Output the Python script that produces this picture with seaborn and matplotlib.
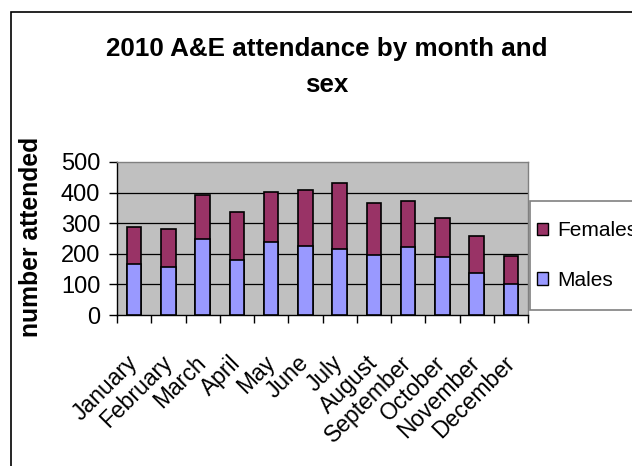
import matplotlib
matplotlib.use("Agg")
import matplotlib.pyplot as plt
from matplotlib.patches import Rectangle, Patch
import seaborn as sns
import pandas as pd

# monthly A&E attendance
months = ["January", "February", "March", "April", "May", "June",
          "July", "August", "September", "October", "November", "December"]
males = [167, 156, 247, 180, 240, 227, 217, 197, 221, 191, 138, 101]
females = [121, 126, 144, 157, 162, 181, 215, 170, 152, 127, 120, 91]

male_col = "#9999FF"
female_col = "#993366"

df = pd.DataFrame({"month": months, "Males": males, "Females": females})
df["total"] = df["Males"] + df["Females"]

sns.set_style("white")
plt.rcParams["font.family"] = ["Liberation Sans", "DejaVu Sans"]
plt.rcParams["text.color"] = "black"
plt.rcParams["xtick.color"] = "black"
plt.rcParams["ytick.color"] = "black"

fig = plt.figure(figsize=(6.32, 4.66), dpi=100, facecolor="white")
W, H = 632, 466
ax = fig.add_axes([117 / W, 1 - 315 / H, (528 - 117) / W, (315 - 162) / H])
ax.set_facecolor("#C0C0C0")

# stacked bars: draw the totals in the female colour, then males on top
sns.barplot(data=df, x="month", y="total", color=female_col, width=0.43,
            edgecolor="black", linewidth=1.2, saturation=1, ax=ax, zorder=3)
sns.barplot(data=df, x="month", y="Males", color=male_col, width=0.43,
            edgecolor="black", linewidth=1.2, saturation=1, ax=ax, zorder=4)

ax.set_ylim(0, 500)
ax.set_xlim(-0.5, len(months) - 0.5)
ax.set_yticks(range(0, 501, 100))
for v in range(100, 500, 100):
    ax.axhline(v, color="black", lw=0.9, zorder=1)

ax.set_xlabel("")
ax.set_ylabel("")
ax.tick_params(axis="y", labelsize=17, length=6, width=1, direction="out",
               color="black", left=True, pad=6)
ax.set_xticks(range(len(months)))
ax.set_xticklabels(months, rotation=45, ha="right", rotation_mode="anchor",
                   va="center", fontsize=16.5)
ax.tick_params(axis="x", length=0, pad=32)
ax.set_xticks([i - 0.5 for i in range(len(months) + 1)], minor=True)
ax.tick_params(axis="x", which="minor", length=6, width=1, color="black",
               direction="out", bottom=True)

for side in ["left", "bottom"]:
    ax.spines[side].set_color("black")
    ax.spines[side].set_linewidth(1)
for side in ["top", "right"]:
    ax.spines[side].set_color("#808080")
    ax.spines[side].set_linewidth(1)

fig.text(327 / W, 1 - 67 / H, "2010 A&E attendance by month and\nsex",
         ha="center", va="center", fontsize=18.7, fontweight="bold",
         linespacing=1.68)
fig.text(31 / W, 1 - 237 / H, "number attended", rotation=90,
         ha="center", va="center", fontsize=17.8, fontweight="bold")

# legend box (runs off the right edge, as in the original)
fig.patches.append(Rectangle((530 / W, 1 - 310 / H), 0.2, 109 / H,
                             transform=fig.transFigure, facecolor="white",
                             edgecolor="#808080", lw=1.2, zorder=0))
handles = [Patch(facecolor=female_col, edgecolor="black", label="Females"),
           Patch(facecolor=male_col, edgecolor="black", label="Males")]
fig.legend(handles=handles, loc="center left",
           bbox_to_anchor=(537 / W, 1 - 255.5 / H), frameon=False,
           fontsize=15, handlelength=0.55, handleheight=0.55,
           handletextpad=0.4, labelspacing=1.45, borderpad=0,
           borderaxespad=0)

# outer chart border (runs off the right and bottom edges)
fig.patches.append(Rectangle((11 / W, -0.1), 1.2, 1.1 - 11.5 / H,
                             transform=fig.transFigure, fill=False,
                             edgecolor="black", lw=1.2))

fig.savefig("out.png", dpi=100, facecolor="white")
plt.close(fig)
